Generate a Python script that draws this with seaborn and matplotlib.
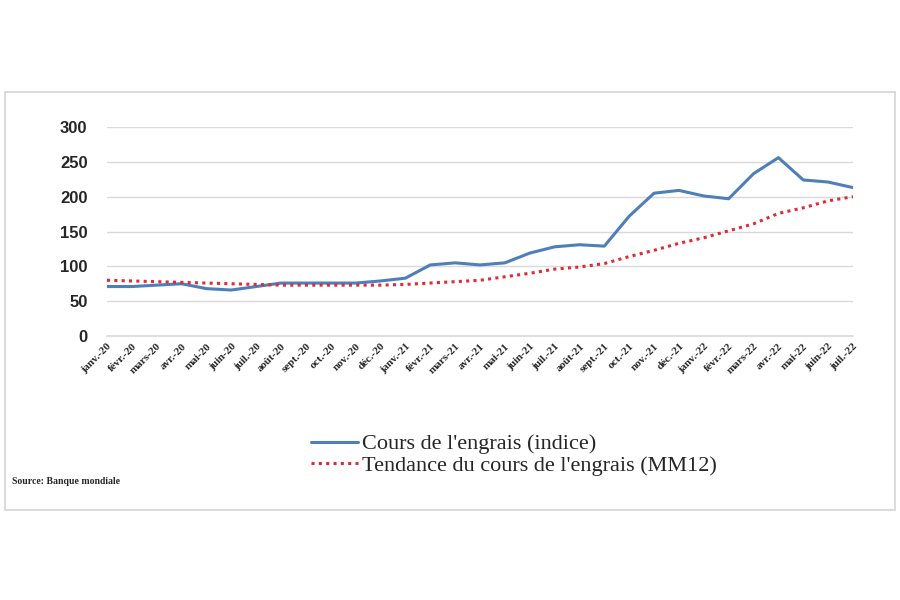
import numpy as np
import pandas as pd
import matplotlib.pyplot as plt
import seaborn as sns
from matplotlib.patches import Rectangle

months = ["janv.-20", "févr.-20", "mars-20", "avr.-20", "mai-20", "juin-20",
          "juil.-20", "août-20", "sept.-20", "oct.-20", "nov.-20", "déc.-20",
          "janv.-21", "févr.-21", "mars-21", "avr.-21", "mai-21", "juin-21",
          "juil.-21", "août-21", "sept.-21", "oct.-21", "nov.-21", "déc.-21",
          "janv.-22", "févr.-22", "mars-22", "avr.-22", "mai-22", "juin-22",
          "juil.-22"]

# Cours de l'engrais (indice)
cours = [71, 71, 73, 75, 68, 66, 71, 76, 76, 76, 76, 79,
         83, 102, 105, 102, 105, 119, 128, 131, 129, 172, 205, 209,
         201, 197, 233, 256, 224, 221, 213]

# Tendance (moyenne mobile 12 mois)
tendance = [80, 79, 78, 77, 76, 75, 74, 73, 73, 73, 73, 73,
            74, 76, 78, 80, 85, 90, 96, 99, 104, 114, 123, 133,
            141, 151, 161, 176, 184, 194, 200]

label_cours = "Cours de l'engrais (indice)"
label_tend = "Tendance du cours de l'engrais (MM12)"

df = pd.DataFrame({"idx": np.arange(len(months)), "cours": cours, "tendance": tendance})

sns.set_style("white")

fig = plt.figure(figsize=(9, 6), dpi=100)
fig.patch.set_facecolor("white")
fig.patches.append(Rectangle((5 / 900, 1 - 510 / 600), 890 / 900, 418 / 600,
                             transform=fig.transFigure, fill=False,
                             edgecolor="#d4d4d4", linewidth=1.2))

ax = fig.add_axes([107 / 900, 1 - 336 / 600, 746 / 900, 209 / 600])

sns.lineplot(data=df, x="idx", y="cours", ax=ax, color="#4f7fb8",
             linewidth=2.2, label=label_cours, zorder=3)
sns.lineplot(data=df, x="idx", y="tendance", ax=ax, color="#e02a35",
             linewidth=2.2, linestyle=(0, (1, 1.4)), label=label_tend, zorder=3)

ax.set_xlim(0, len(months) - 1)
ax.set_ylim(0, 300)
ax.set_yticks(range(0, 301, 50))
ax.set_yticklabels([str(v) for v in range(0, 301, 50)],
                   fontsize=12, fontweight="bold", family="Liberation Sans")
ax.set_xticks(df["idx"])
ax.set_xticklabels(months, rotation=45, ha="right", rotation_mode="anchor",
                   fontsize=8, fontweight="bold", family="Liberation Serif")
ax.tick_params(axis="y", length=0, pad=14)
ax.tick_params(axis="x", length=0, pad=4)
ax.set_xlabel("")
ax.set_ylabel("")
ax.grid(axis="y", color="#d9d9d9", linewidth=1)
ax.axhline(0, color="#d9d9d9", linewidth=1.2, clip_on=False, zorder=1)
for s in ax.spines.values():
    s.set_visible(False)

ax.legend(loc="upper left", bbox_to_anchor=(302 / 900, 1 - 425 / 600),
          bbox_transform=fig.transFigure, frameon=False,
          prop={"family": "Liberation Serif", "size": 16},
          handlelength=2.1, handletextpad=0.2, labelspacing=0.05,
          borderaxespad=0)

fig.text(12 / 900, 1 - 482 / 600, "Source: Banque mondiale", fontsize=7,
         fontweight="bold", family="Liberation Serif", va="center")

fig.savefig("out.png", dpi=100)
